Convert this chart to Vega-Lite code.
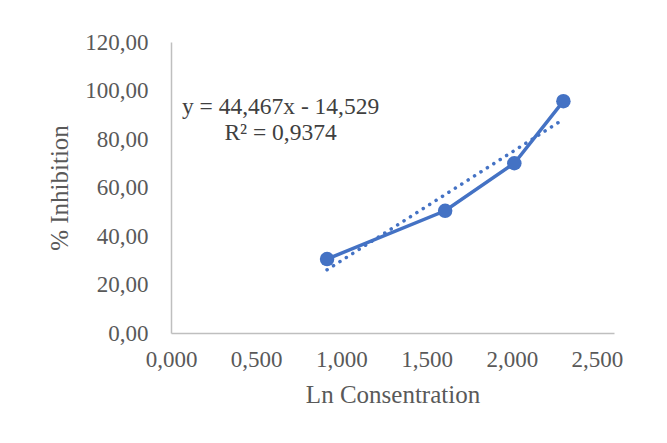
{
  "$schema": "https://vega.github.io/schema/vega-lite/v6.json",
  "width": 443,
  "height": 291,
  "autosize": {"type": "none"},
  "padding": {"left": 171, "top": 42, "right": 53, "bottom": 110},
  "background": "white",
  "config": {
    "locale": {"number": {"decimal": ",", "thousands": ".", "grouping": [3], "currency": ["", " €"]}},
    "view": {"stroke": null},
    "font": "Liberation Serif, Times New Roman, serif",
    "axis": {"grid": false, "ticks": false, "labelFlush": false, "labelOverlap": false, "domainColor": "#BFBFBF", "domainWidth": 1.5, "labelColor": "#595959", "titleColor": "#595959", "labelFont": "Liberation Serif, Times New Roman, serif", "titleFont": "Liberation Serif, Times New Roman, serif", "titleFontWeight": "normal", "labelFontSize": 23, "titleFontSize": 25}
  },
  "datasets": {
    "pts": [
      {"x": 0.916, "y": 30.5},
      {"x": 1.609, "y": 50.4},
      {"x": 2.015, "y": 70.0},
      {"x": 2.303, "y": 95.6}
    ],
    "eq": [
      {"x": 0.643, "y": 93.2, "t": "y = 44,467x - 14,529"},
      {"x": 0.643, "y": 82.4, "t": "R² = 0,9374"}
    ]
  },
  "layer": [
    {
      "data": {"name": "pts"},
      "transform": [{"regression": "y", "on": "x"}],
      "mark": {"type": "line", "color": "#4472C4", "strokeWidth": 3.5, "strokeCap": "round", "strokeDash": [0.1, 7.5]},
      "encoding": {
        "x": {"field": "x", "type": "quantitative", "scale": {"domain": [0, 2.5]}, "axis": {"values": [0, 0.5, 1, 1.5, 2, 2.5], "format": ".3f", "labelPadding": 15, "title": "Ln Consentration", "titlePadding": 11}},
        "y": {"field": "y", "type": "quantitative", "scale": {"domain": [0, 120]}, "axis": {"values": [0, 20, 40, 60, 80, 100, 120], "format": ".2f", "labelPadding": 23, "title": "% Inhibition", "titlePadding": 12}}
      }
    },
    {
      "data": {"name": "pts"},
      "mark": {"type": "line", "color": "#4472C4", "strokeWidth": 3.5, "point": {"filled": true, "size": 210, "color": "#4472C4", "opacity": 1}},
      "encoding": {
        "x": {"field": "x", "type": "quantitative"},
        "y": {"field": "y", "type": "quantitative"}
      }
    },
    {
      "data": {"name": "eq"},
      "mark": {"type": "text", "font": "Liberation Serif, Times New Roman, serif", "fontSize": 23.5, "color": "#404040", "align": "center", "baseline": "middle"},
      "encoding": {
        "x": {"field": "x", "type": "quantitative"},
        "y": {"field": "y", "type": "quantitative"},
        "text": {"field": "t"}
      }
    }
  ]
}
